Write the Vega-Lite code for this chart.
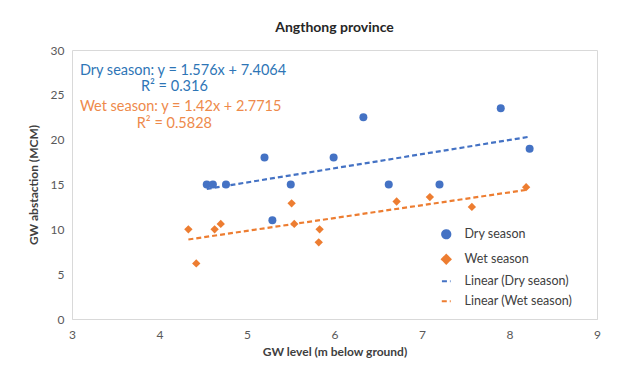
{
  "$schema": "https://vega.github.io/schema/vega-lite/v6.json",
  "width": 525,
  "height": 269,
  "autosize": "none",
  "padding": {"left": 72, "top": 50, "right": 24, "bottom": 47},
  "background": "white",
  "title": {"text": "Angthong province", "fontSize": 14, "fontWeight": "bold", "font": "Lato", "color": "#262626", "anchor": "middle", "offset": 9},
  "config": {
    "font": "Lato",
    "view": {"stroke": "#d9d9d9", "strokeWidth": 1},
    "axis": {"labelFontSize": 12, "labelColor": "#595959", "titleFontSize": 12, "titleFontWeight": "bold", "titleColor": "#404040", "ticks": false, "grid": false, "labelFont": "Lato", "titleFont": "Lato"}
  },
  "datasets": {
    "obs": [
      {"season": "Dry season", "trend": "Linear (Dry season)", "gw_level": 4.54, "abstraction": 15.0},
      {"season": "Dry season", "trend": "Linear (Dry season)", "gw_level": 4.61, "abstraction": 15.0},
      {"season": "Dry season", "trend": "Linear (Dry season)", "gw_level": 4.76, "abstraction": 15.0},
      {"season": "Dry season", "trend": "Linear (Dry season)", "gw_level": 5.2, "abstraction": 18.0},
      {"season": "Dry season", "trend": "Linear (Dry season)", "gw_level": 5.29, "abstraction": 11.0},
      {"season": "Dry season", "trend": "Linear (Dry season)", "gw_level": 5.5, "abstraction": 15.0},
      {"season": "Dry season", "trend": "Linear (Dry season)", "gw_level": 5.99, "abstraction": 18.0},
      {"season": "Dry season", "trend": "Linear (Dry season)", "gw_level": 6.33, "abstraction": 22.5},
      {"season": "Dry season", "trend": "Linear (Dry season)", "gw_level": 6.62, "abstraction": 15.0},
      {"season": "Dry season", "trend": "Linear (Dry season)", "gw_level": 7.2, "abstraction": 15.0},
      {"season": "Dry season", "trend": "Linear (Dry season)", "gw_level": 7.9, "abstraction": 23.5},
      {"season": "Dry season", "trend": "Linear (Dry season)", "gw_level": 8.23, "abstraction": 19.0},
      {"season": "Wet season", "trend": "Linear (Wet season)", "gw_level": 4.33, "abstraction": 10.0},
      {"season": "Wet season", "trend": "Linear (Wet season)", "gw_level": 4.42, "abstraction": 6.2},
      {"season": "Wet season", "trend": "Linear (Wet season)", "gw_level": 4.63, "abstraction": 10.0},
      {"season": "Wet season", "trend": "Linear (Wet season)", "gw_level": 4.7, "abstraction": 10.6},
      {"season": "Wet season", "trend": "Linear (Wet season)", "gw_level": 5.51, "abstraction": 12.9},
      {"season": "Wet season", "trend": "Linear (Wet season)", "gw_level": 5.54, "abstraction": 10.6},
      {"season": "Wet season", "trend": "Linear (Wet season)", "gw_level": 5.82, "abstraction": 8.55},
      {"season": "Wet season", "trend": "Linear (Wet season)", "gw_level": 5.83, "abstraction": 10.0},
      {"season": "Wet season", "trend": "Linear (Wet season)", "gw_level": 6.71, "abstraction": 13.1},
      {"season": "Wet season", "trend": "Linear (Wet season)", "gw_level": 7.09, "abstraction": 13.6},
      {"season": "Wet season", "trend": "Linear (Wet season)", "gw_level": 7.57, "abstraction": 12.5},
      {"season": "Wet season", "trend": "Linear (Wet season)", "gw_level": 8.19, "abstraction": 14.7}
    ]
  },
  "layer": [
    {
      "data": {"name": "obs"},
      "transform": [{"regression": "abstraction", "on": "gw_level", "groupby": ["trend"]}],
      "mark": {"type": "line", "strokeWidth": 2.2},
      "encoding": {
        "x": {"field": "gw_level", "type": "quantitative"},
        "y": {"field": "abstraction", "type": "quantitative"},
        "color": {"field": "trend", "type": "nominal"},
        "strokeDash": {"field": "trend", "type": "nominal"}
      }
    },
    {
      "data": {"name": "obs"},
      "mark": {"type": "point", "filled": true, "opacity": 1},
      "encoding": {
        "x": {"field": "gw_level", "type": "quantitative", "title": "GW level (m below ground)",
          "scale": {"domain": [3, 9], "nice": false, "zero": false},
          "axis": {"values": [3, 4, 5, 6, 7, 8, 9], "format": "d", "labelPadding": 10, "titlePadding": 6, "domainColor": "#d9d9d9", "labelFlush": false}},
        "y": {"field": "abstraction", "type": "quantitative", "title": "GW abstaction (MCM)",
          "scale": {"domain": [0, 30], "nice": false},
          "axis": {"values": [0, 5, 10, 15, 20, 25, 30], "labelPadding": 8, "titlePadding": 10, "domain": false, "labelFlush": false}},
        "color": {"field": "season", "type": "nominal",
          "scale": {"domain": ["Dry season", "Wet season", "Linear (Dry season)", "Linear (Wet season)"], "range": ["#4472C4", "#ED7D31", "#4472C4", "#ED7D31"]},
          "legend": {"title": null, "orient": "none", "legendX": 368, "legendY": 178, "labelFontSize": 12.5, "labelColor": "#404040", "labelFont": "Lato", "labelOffset": 12, "rowPadding": 7, "symbolStrokeWidth": 2.2, "symbolOpacity": 1}},
        "shape": {"field": "season", "type": "nominal",
          "scale": {"domain": ["Dry season", "Wet season", "Linear (Dry season)", "Linear (Wet season)"], "range": ["circle", "diamond", "stroke", "stroke"]}},
        "size": {"field": "season", "type": "nominal",
          "scale": {"domain": ["Dry season", "Wet season", "Linear (Dry season)", "Linear (Wet season)"], "range": [64, 80, 3600, 3600]}},
        "strokeDash": {"field": "season", "type": "nominal",
          "scale": {"domain": ["Dry season", "Wet season", "Linear (Dry season)", "Linear (Wet season)"], "range": [[1, 0], [1, 0], [5, 3], [5, 3]]}}
      }
    },
    {
      "data": {"values": [{}]},
      "mark": {"type": "text", "align": "left", "fontSize": 14.5, "color": "#2E75B6", "font": "Lato"},
      "encoding": {"x": {"datum": 3.09}, "y": {"datum": 27.65}, "text": {"value": "Dry season: y = 1.576x + 7.4064"}}
    },
    {
      "data": {"values": [{}]},
      "mark": {"type": "text", "align": "center", "fontSize": 14.5, "color": "#2E75B6", "font": "Lato"},
      "encoding": {"x": {"datum": 4.17}, "y": {"datum": 25.85}, "text": {"value": "R² = 0.316"}}
    },
    {
      "data": {"values": [{}]},
      "mark": {"type": "text", "align": "left", "fontSize": 14.5, "color": "#EE8A4B", "font": "Lato"},
      "encoding": {"x": {"datum": 3.09}, "y": {"datum": 23.6}, "text": {"value": "Wet season: y = 1.42x + 2.7715"}}
    },
    {
      "data": {"values": [{}]},
      "mark": {"type": "text", "align": "center", "fontSize": 14.5, "color": "#EE8A4B", "font": "Lato"},
      "encoding": {"x": {"datum": 4.17}, "y": {"datum": 21.75}, "text": {"value": "R² = 0.5828"}}
    }
  ],
  "resolve": {"scale": {"color": "shared", "strokeDash": "shared"}}
}
